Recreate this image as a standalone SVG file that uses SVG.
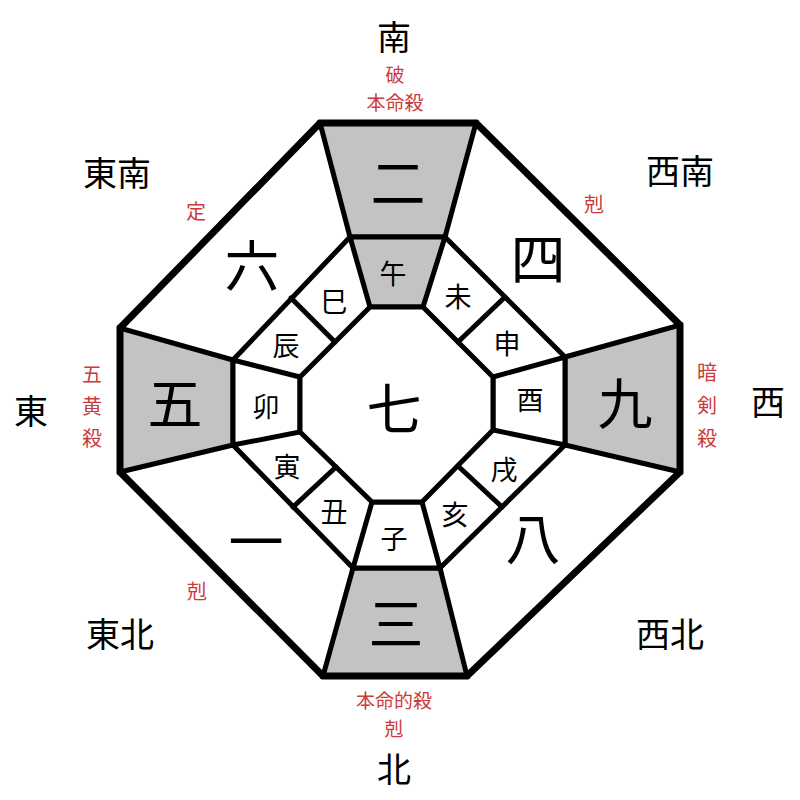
<svg xmlns="http://www.w3.org/2000/svg" width="800" height="800" viewBox="0 0 800 800">
<style>
  .bg{fill:#ffffff}
  .gray{fill:#c3c3c3;stroke:#000;stroke-width:5;stroke-linejoin:miter}
  .white{fill:#ffffff;stroke:#000;stroke-width:5;stroke-linejoin:miter}
  .ln{stroke:#000;stroke-width:5;fill:none;stroke-linecap:round}
  .outer{fill:none;stroke:#000;stroke-width:7;stroke-linejoin:miter}
  text{font-family:"Noto Sans CJK JP","Noto Sans CJK SC",sans-serif;text-anchor:middle;dominant-baseline:central}
  .dir{font-size:34px;fill:#000}
  .red{font-size:20px;fill:#cc3b3b}
  .red2{font-size:19px;fill:#cc3b3b}
  .num{font-size:55px;fill:#000}
  .br{font-size:27px;fill:#000}
</style>
<rect class="bg" x="0" y="0" width="800" height="800"/>
<g id="cells">
  <polygon id="cell-2" class="gray" points="320,123 476,123 445,237 350,237"/>
  <polygon id="cell-9" class="gray" points="680,325 680,472 565,445 565,357"/>
  <polygon id="cell-3" class="gray" points="440,568 353,568 323,676 467,676"/>
  <polygon id="cell-5" class="gray" points="233,445 120,472 120,328 233,360"/>
  <polygon id="cell-uma" class="gray" points="350,237 445,237 423,307 370,307"/>
  <polygon id="cell-tori" class="white" points="565,357 565,445 493,430 493,377"/>
  <polygon id="cell-ne" class="white" points="440,568 353,568 372,502 422,502"/>
  <polygon id="cell-u" class="white" points="233,445 233,360 300,377 300,432"/>
</g>
<g id="connectors">
  <polygon class="white" points="370,307 423,307 493,377 493,430 422,502 372,502 300,432 300,377"/>
  <line class="ln" x1="445" y1="237" x2="565" y2="357"/>
  <line class="ln" x1="565" y1="445" x2="440" y2="568"/>
  <line class="ln" x1="353" y1="568" x2="233" y2="445"/>
  <line class="ln" x1="233" y1="360" x2="350" y2="237"/>
  <line class="ln" x1="505" y1="297" x2="458" y2="342"/>
  <line class="ln" x1="502" y1="507" x2="458" y2="466"/>
  <line class="ln" x1="293" y1="507" x2="336" y2="467"/>
  <line class="ln" x1="291" y1="298" x2="335" y2="342"/>
  <polygon class="outer" points="320,123 476,123 680,325 680,472 467,676 323,676 120,472 120,328"/>
</g>
<g id="directions">
  <text class="dir" x="394" y="35">南</text>
  <text class="dir" x="394" y="767">北</text>
  <text class="dir" x="31" y="409">東</text>
  <text class="dir" x="768" y="400">西</text>
  <text class="dir" x="117" y="171">東南</text>
  <text class="dir" x="680" y="169">西南</text>
  <text class="dir" x="120" y="632">東北</text>
  <text class="dir" x="670" y="632">西北</text>
</g>
<g id="notes">
  <text class="red2" x="395" y="73">破</text>
  <text class="red2" x="395" y="101">本命殺</text>
  <text class="red" x="196" y="210">定</text>
  <text class="red" x="594" y="203">剋</text>
  <text class="red" x="92" y="373">五</text>
  <text class="red" x="92" y="405">黄</text>
  <text class="red" x="92" y="437">殺</text>
  <text class="red" x="707" y="371">暗</text>
  <text class="red" x="707" y="404">剣</text>
  <text class="red" x="707" y="437">殺</text>
  <text class="red" x="197" y="590">剋</text>
  <text class="red2" x="394" y="699">本命的殺</text>
  <text class="red2" x="394" y="727">剋</text>
</g>
<g id="numbers">
  <text class="num" x="398" y="179">二</text>
  <text class="num" x="538" y="255">四</text>
  <text class="num" x="625" y="400">九</text>
  <text class="num" x="533" y="535">八</text>
  <text class="num" x="396" y="620">三</text>
  <text class="num" x="256" y="538">一</text>
  <text class="num" x="175" y="400">五</text>
  <text class="num" x="252" y="262">六</text>
  <text class="num" x="394" y="405">七</text>
</g>
<g id="branches">
  <text class="br" x="393" y="272">午</text>
  <text class="br" x="458" y="295">未</text>
  <text class="br" x="507" y="342">申</text>
  <text class="br" x="530" y="398">酉</text>
  <text class="br" x="504" y="468">戌</text>
  <text class="br" x="455" y="513">亥</text>
  <text class="br" x="394" y="537">子</text>
  <text class="br" x="334" y="510">丑</text>
  <text class="br" x="287" y="465">寅</text>
  <text class="br" x="266" y="405">卯</text>
  <text class="br" x="286" y="344">辰</text>
  <text class="br" x="334" y="300">巳</text>
</g>
</svg>
